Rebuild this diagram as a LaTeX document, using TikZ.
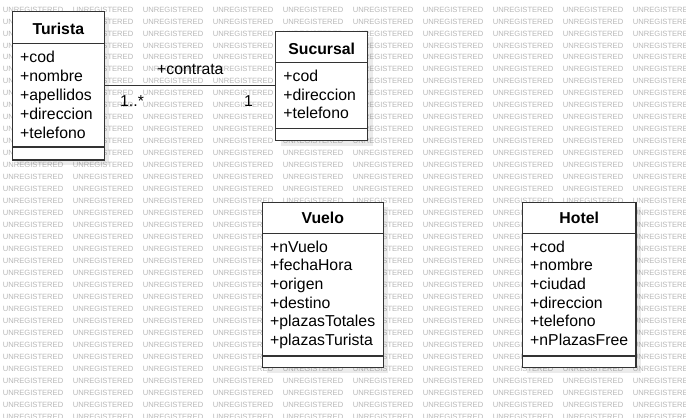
\documentclass[tikz,border=0pt]{standalone}
\usepackage{fontspec}
\setmainfont{Liberation Sans}
\begin{document}
\begin{tikzpicture}[x=1pt,y=-1pt,
  classbox/.style={draw=black!80,line width=1.2pt,fill=white,inner sep=0pt,outer sep=0pt,anchor=north west},
  classline/.style={draw=black!80,line width=1.2pt},
  assoc/.style={draw=black!80,line width=.9pt},
  classname/.style={font=\fontsize{15.8pt}{19pt}\selectfont\bfseries,anchor=base,inner sep=0pt},
  attr/.style={font=\fontsize{15.8pt}{19pt}\selectfont,anchor=base west,inner sep=0pt},
  watermark/.style={font=\fontsize{7.6pt}{9pt}\selectfont,color=black!28,anchor=west,inner sep=0pt}]
\useasboundingbox (0, 0) rectangle (686, 418);
\fill [color=white] (0, 0) rectangle (686, 418);

\begin{scope}
\clip (0, 0) rectangle (686, 418);
\foreach \r in {0,...,34}
  \foreach \c in {0,...,9}
    \node (wm-\r-\c) at (2.7+70*\c, 9.5+11.97*\r) [watermark] {UNREGISTERED};
\end{scope}

\newcommand\umlclass[7]{%
\fill [color=black,opacity=.08] (#2+5, #3+5) rectangle (#2+#4+5, #3+#5+5);%
\node (#1) at (#2, #3) [classbox, minimum width=#4pt, minimum height=#5pt] {};%
\draw [classline] (#2, #3+#6) -- (#2+#4, #3+#6);%
\draw [classline] (#2, #3+#7) -- (#2+#4, #3+#7);%
}
\umlclass{turista}{12.3}{11.7}{92}{148.3}{31.6}{135.3}
\umlclass{sucursal}{275.7}{31.7}{92}{109}{30.6}{96.6}
\umlclass{vuelo}{262.3}{202.3}{121}{165.4}{31}{153.7}
\umlclass{hotel}{522.3}{202.3}{113.7}{165.4}{31}{153.7}

\node (turista-name) at (58.3, 34.3) [classname] {Turista};
\node (sucursal-name) at (321.7, 54) [classname] {Sucursal};
\node (vuelo-name) at (322.8, 223.3) [classname] {Vuelo};
\node (hotel-name) at (579.2, 223.3) [classname] {Hotel};

\foreach \a [count=\i from 0] in {+cod,+nombre,+apellidos,+direccion,+telefono}
  \node (turista-\i) at (20, 62.8+18.8*\i) [attr] {\a};
\foreach \a [count=\i from 0] in {+cod,+direccion,+telefono}
  \node (sucursal-\i) at (283.2, 81.3+18.8*\i) [attr] {\a};
\foreach \a [count=\i from 0] in {+nVuelo,+fechaHora,+origen,+destino,+plazasTotales,+plazasTurista}
  \node (vuelo-\i) at (270, 252+18.7*\i) [attr] {\a};
\foreach \a [count=\i from 0] in {+cod,+nombre,+ciudad,+direccion,+telefono,+nPlazasFree}
  \node (hotel-\i) at (530, 252+18.7*\i) [attr] {\a};

% association Turista - Sucursal
\draw [assoc] (turista.east) -- (turista.east -| sucursal.west);
\node (contrata) at (157, 74) [attr] {+contrata};
\node (mult-turista) at (120, 106) [attr] {1..*};
\node (mult-sucursal) at (244, 106) [attr] {1};
\end{tikzpicture}
\end{document}
